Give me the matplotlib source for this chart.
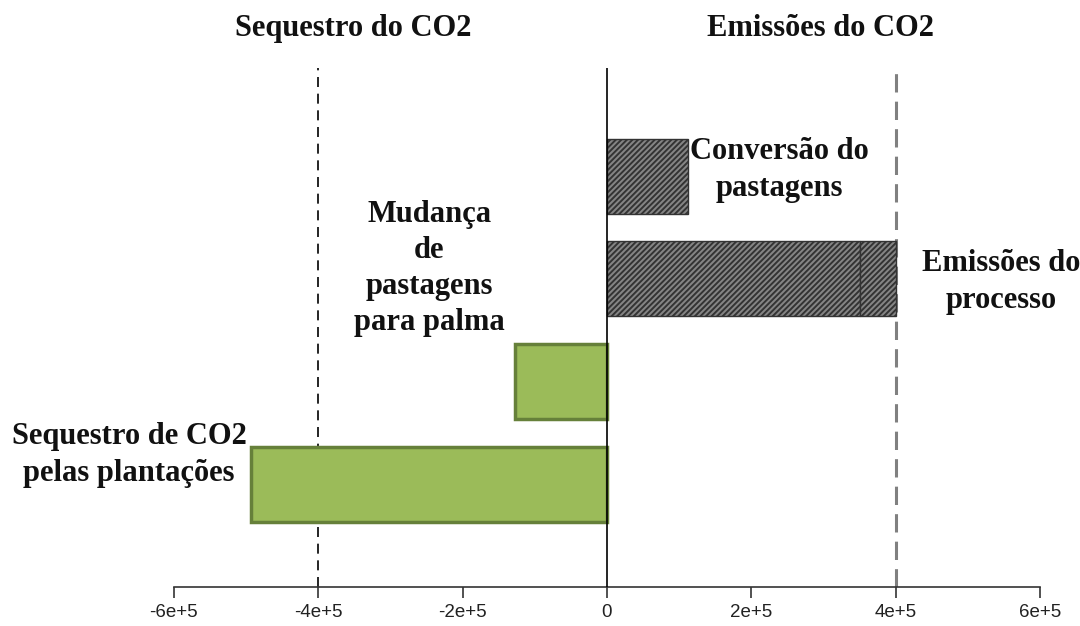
import matplotlib
matplotlib.use("Agg")
import matplotlib.pyplot as plt
import numpy as np

# Data
categories = ["Sequestro de CO2\npelas plantações", "Mudança\nde\npastagens\npara palma",
              "Emissões do\nprocesso", "Conversão do\npastagens"]
seq_values = [-4.93e5, -1.28e5, 0, 0]          # sequestration (green)
emis_main = [0, 0, 3.5e5, 1.12e5]             # emissions, first segment
emis_extra = [0, 0, 0.5e5, 0]                  # emissions, second segment
tick_vals = [-6e5, -4e5, -2e5, 0, 2e5, 4e5, 6e5]
tick_labels = ["-6e+5", "-4e+5", "-2e+5", "0", "2e+5", "4e+5", "6e+5"]
ref_lines = [-4e5, 4e5]

plt.rcParams['hatch.linewidth'] = 1.4
fig = plt.figure(figsize=(10.8, 6.26), dpi=100)
ax = fig.add_axes([0.161, 0.0623, 0.802, 0.8287])

y = np.arange(len(categories))
h = 0.73
# green bars
for yi, v in zip(y, seq_values):
    if v != 0:
        ax.barh(yi, v, height=h, color='#9bbb59', edgecolor='#66803a', linewidth=2.5, zorder=2)
# hatched bars
for yi, v1, v2 in zip(y, emis_main, emis_extra):
    if v1 != 0:
        ax.barh(yi, v1, height=h, color='#858585', edgecolor='#333333', hatch='//////',
                linewidth=1, zorder=2)
    if v2 != 0:
        ax.barh(yi, v2, left=v1, height=h, color='#858585', edgecolor='#333333', hatch='//////',
                linewidth=1, zorder=2)

ax.set_xlim(-6e5, 6e5)
ax.set_ylim(-1, 4.05)
ax.axvline(0, color='black', lw=1.2, zorder=3)
ax.axvline(ref_lines[0], color='black', lw=1.2, ls=(0, (6, 4)), zorder=1)
ax.axvline(ref_lines[1], color='#808080', lw=2.2, ls=(0, (6, 3)), zorder=1)

for s in ['top', 'right', 'left']:
    ax.spines[s].set_visible(False)
ax.spines['bottom'].set_color('#333333')
ax.spines['bottom'].set_linewidth(1.2)
ax.set_yticks([])
ax.set_xticks(tick_vals)
ax.set_xticklabels(tick_labels, fontsize=13.5, color='#222222', family='Liberation Sans')
ax.tick_params(axis='x', direction='out', length=8, width=1.2, color='#333333', pad=4)

fs = 22
tkw = dict(fontsize=fs, fontweight='bold', family='Liberation Serif', ha='center',
           va='center', linespacing=1.33, clip_on=False, color='#111111')
ax.text(-3.51e5, 4.44, "Sequestro do CO2", **tkw)
ax.text(2.96e5, 4.44, "Emissões do CO2", **tkw)
ax.text(2.39e5, 3.06, categories[3], **tkw)
ax.text(5.46e5, 1.97, categories[2], **tkw)
ax.text(-2.46e5, 2.10, categories[1], **tkw)
ax.text(-6.62e5, 0.285, categories[0], **tkw)

fig.savefig("out.png", dpi=100)
